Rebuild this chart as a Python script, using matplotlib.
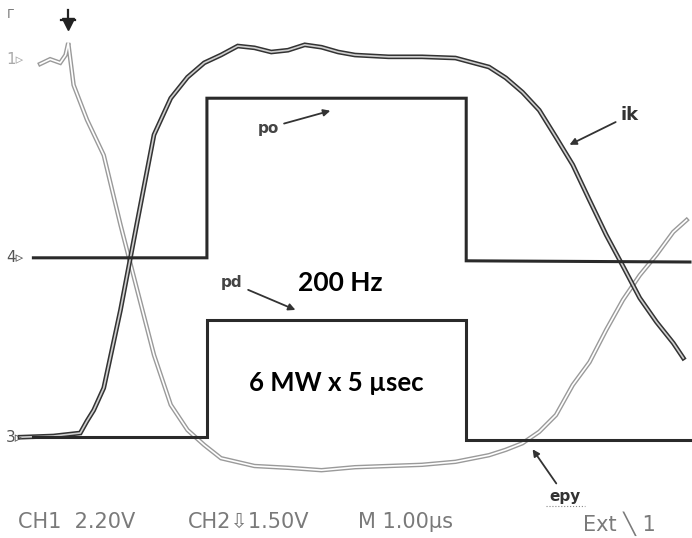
import matplotlib.pyplot as plt

# time in microseconds, level in screen divisions
ik_t = [0.0, 0.5, 0.9, 1.0, 1.1, 1.25, 1.5, 1.75, 2.0, 2.25, 2.5, 2.75, 3.0, 3.25, 3.5,
        3.75, 4.0, 4.25, 4.5, 4.75, 5.0, 5.5, 6.0, 6.5, 7.0, 7.25, 7.5, 7.75, 8.0, 8.25,
        8.5, 8.75, 9.0, 9.25, 9.5, 9.75, 9.9]
ik_v = [0.88, 0.90, 0.95, 1.15, 1.33, 1.70, 3.00, 4.47, 5.92, 6.53, 6.88, 7.12, 7.25,
        7.40, 7.37, 7.30, 7.33, 7.42, 7.38, 7.30, 7.25, 7.22, 7.22, 7.20, 7.05, 6.87,
        6.63, 6.33, 5.88, 5.42, 4.83, 4.25, 3.73, 3.20, 2.80, 2.45, 2.20]

epy_t = [0.3, 0.45, 0.6, 0.68, 0.72, 0.8, 1.0, 1.25, 1.5, 1.75, 2.0, 2.25, 2.5, 2.75,
         3.0, 3.5, 4.0, 4.5, 5.0, 5.5, 6.0, 6.5, 7.0, 7.25, 7.5, 7.75, 8.0, 8.25, 8.5,
         8.75, 9.0, 9.25, 9.5, 9.75, 9.95]
epy_v = [7.10, 7.18, 7.12, 7.25, 7.45, 6.75, 6.17, 5.58, 4.42, 3.33, 2.25, 1.42, 1.00,
         0.75, 0.53, 0.40, 0.37, 0.33, 0.38, 0.40, 0.42, 0.47, 0.58, 0.67, 0.78, 0.97,
         1.25, 1.75, 2.13, 2.67, 3.17, 3.58, 3.92, 4.30, 4.50]

po_t = [0.2, 2.79, 2.79, 6.66, 6.66, 10.0]
po_v = [3.87, 3.87, 6.53, 6.53, 3.82, 3.80]

pd_t = [0.2, 2.79, 2.79, 6.66, 6.66, 10.0]
pd_v = [0.88, 0.88, 2.83, 2.83, 0.83, 0.83]

fig = plt.figure(figsize=(6.92, 5.38), dpi=100)
ax = fig.add_axes([0, 0, 1, 1])
ax.set_xlim(-0.2985, 10.03)
ax.set_ylim(-0.8, 8.167)
ax.axis('off')

# hollow looking traces
ax.plot(epy_t, epy_v, color='#9a9a9a', lw=3.2, solid_joinstyle='miter')
ax.plot(epy_t, epy_v, color='white', lw=1.2)
ax.plot(ik_t, ik_v, color='#333333', lw=3.4, solid_joinstyle='miter')
ax.plot(ik_t, ik_v, color='#cfcfcf', lw=1.2)
ax.plot(po_t, po_v, color='#2a2a2a', lw=2.2, solid_joinstyle='miter')
ax.plot(pd_t, pd_v, color='#2a2a2a', lw=2.2, solid_joinstyle='miter')

def fx(x):
    return x / 692.0

def fy(y):
    return 1 - y / 538.0

tr = ax.transAxes
gray = '#7a7a7a'
# channel markers and trigger
ax.text(fx(6), fy(60), '1\u25b9', transform=tr, color='#aaaaaa', fontsize=11, va='center')
ax.text(fx(6), fy(258), '4\u25b9', transform=tr, color='#555555', fontsize=11, va='center')
ax.text(fx(6), fy(437), '3\u25b9', transform=tr, color='#555555', fontsize=11, va='center')
ax.plot([fx(68)], [fy(24)], marker='v', markersize=9, color='#222222', transform=tr)
ax.plot([fx(68), fx(68)], [fy(10), fy(24)], color='#222222', lw=1.6, transform=tr)
ax.plot([fx(61), fx(75)], [fy(20), fy(20)], color='#222222', lw=1.6, transform=tr)
ax.text(fx(10), fy(14), '\u0393', transform=tr, color='#777777', fontsize=9,
        ha='center', va='center')

# labels with arrows
arrow = dict(arrowstyle='-|>', color='#333333', lw=1.3, mutation_scale=10)
ax.annotate('po', xy=(fx(333), fy(110)), xytext=(fx(268), fy(128)),
            xycoords=tr, textcoords=tr, fontsize=11, color='#444444',
            fontweight='bold', ha='center', va='center', arrowprops=arrow)
ax.annotate('pd', xy=(fx(298), fy(311)), xytext=(fx(232), fy(283)),
            xycoords=tr, textcoords=tr, fontsize=11, color='#444444',
            fontweight='bold', ha='center', va='center', arrowprops=arrow)
ax.annotate('ik', xy=(fx(567), fy(146)), xytext=(fx(630), fy(115)),
            xycoords=tr, textcoords=tr, fontsize=13, color='#333333',
            fontweight='bold', ha='center', va='center', arrowprops=arrow)
ax.annotate('epy', xy=(fx(531), fy(447)), xytext=(fx(565), fy(496)),
            xycoords=tr, textcoords=tr, fontsize=11, color='#333333',
            fontweight='bold', ha='center', va='center', arrowprops=arrow)
ax.plot([fx(546), fx(585)], [fy(506), fy(506)], color='#888888', lw=0.8,
        ls=':', transform=tr)

ax.text(fx(340), fy(283), '200 Hz', transform=tr, fontsize=19, fontweight='bold',
        family='Lato', ha='center', va='center')
ax.text(fx(336), fy(383), '6 MW x 5 \u00b5sec', transform=tr, fontsize=18.5,
        fontweight='bold', family='Lato', ha='center', va='center')

# scope readout
ro = dict(transform=tr, color=gray, fontsize=15, va='center',
          family=['Liberation Sans Narrow', 'DejaVu Sans'])
ax.text(fx(18), fy(522), 'CH1  2.20V', **ro)
ax.text(fx(188), fy(522), 'CH2\u21e91.50V', **ro)
ax.text(fx(358), fy(522), 'M 1.00\u00b5s', **ro)
ax.text(fx(583), fy(524), 'Ext \u2572 1', **ro)

fig.savefig('out.png', dpi=100)
